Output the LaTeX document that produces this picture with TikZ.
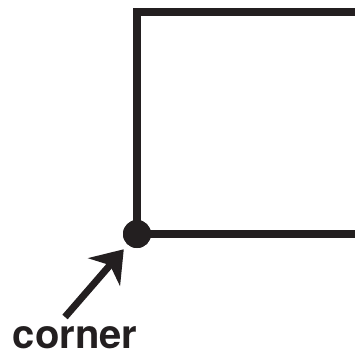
\documentclass[tikz,border=0pt]{standalone}
\usepackage{fontspec}
\setsansfont{TeX Gyre Heros}
\usetikzlibrary{arrows.meta}
\definecolor{ink}{HTML}{231F20}
\tikzset{
	side/.style={draw=ink, line width=8pt, line join=miter},
	dotnode/.style={shape=circle, fill=ink, inner sep=0pt, minimum size=28pt},
	pointer/.style={draw=ink, line width=7pt, -{Stealth[length=30pt, width=42pt, inset=9pt]}, shorten >=6pt},
	lbltext/.style={text=ink, font=\sffamily\bfseries\fontsize{40}{44}\selectfont, inner sep=0pt}
}
\begin{document}
\begin{tikzpicture}[x=1pt, y=-1pt]
	\useasboundingbox (0, 0) rectangle (355, 354);
	\coordinate (TR) at (356, 12);
	\coordinate (TL) at (137, 12);
	\coordinate (BR) at (356, 234);
	\node[dotnode](N1) at (137, 234){};
	\draw[side] (TR) -- (TL) -- (N1.center) -- (BR);
	\node[dotnode] at (N1.center){};
	\node[lbltext, anchor=base](N2) at (75, 348){corner};
	\coordinate (T1) at (65, 317);
	\draw[pointer] (T1) -- (N1);
\end{tikzpicture}
\end{document}
